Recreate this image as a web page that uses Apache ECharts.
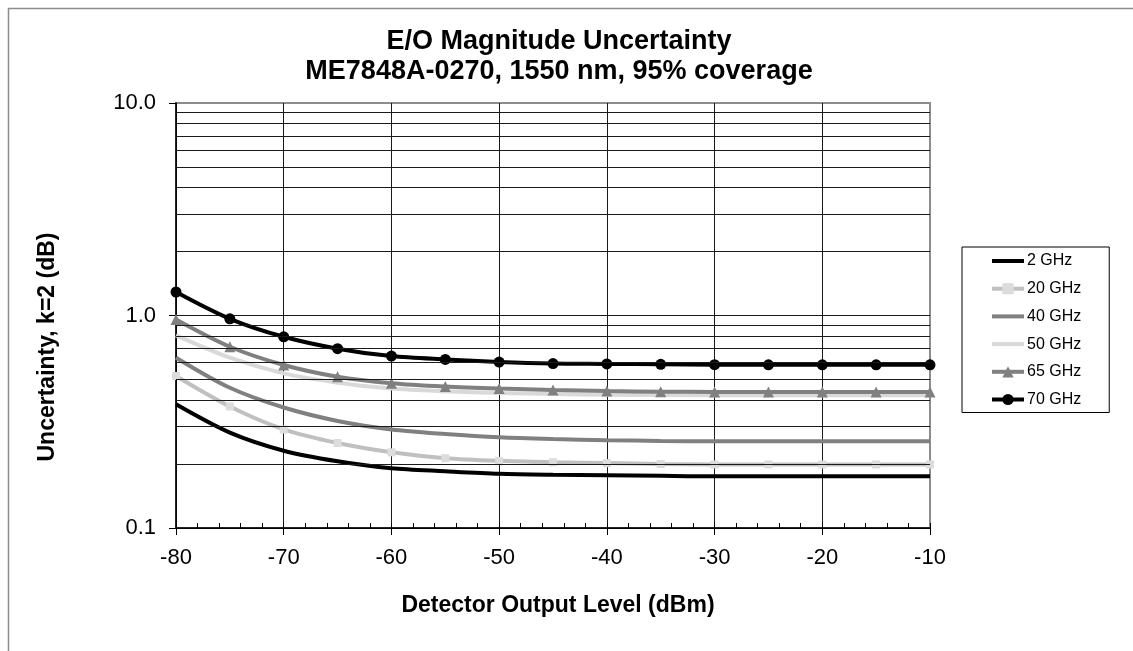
<!DOCTYPE html>
<html>
<head>
<meta charset="utf-8">
<script src="https://cdn.jsdelivr.net/npm/echarts@6/dist/echarts.min.js"></script>
<style>
html,body{margin:0;padding:0;background:#fff;}
#chart{width:1133px;height:651px;}
</style>
</head>
<body>
<div id="chart"></div>
<script>
// ---- data ----
const levels = [-80, -75, -70, -65, -60, -55, -50, -45, -40, -35, -30, -25, -20, -15, -10];
const g2  = [0.382, 0.281, 0.231, 0.206, 0.191, 0.185, 0.180, 0.178, 0.177, 0.176, 0.175, 0.175, 0.175, 0.175, 0.175];
const g20 = [0.519, 0.373, 0.291, 0.251, 0.227, 0.213, 0.207, 0.204, 0.202, 0.200, 0.199, 0.199, 0.199, 0.199, 0.199];
const g40 = [0.633, 0.457, 0.369, 0.319, 0.291, 0.277, 0.267, 0.262, 0.259, 0.257, 0.256, 0.256, 0.256, 0.256, 0.256];
const g50 = [0.806, 0.633, 0.534, 0.483, 0.453, 0.440, 0.432, 0.427, 0.424, 0.422, 0.421, 0.421, 0.421, 0.421, 0.421];
const g65 = [0.958, 0.713, 0.585, 0.515, 0.480, 0.463, 0.453, 0.446, 0.441, 0.438, 0.437, 0.437, 0.437, 0.437, 0.437];
const g70 = [1.29, 0.965, 0.794, 0.698, 0.644, 0.621, 0.604, 0.594, 0.592, 0.589, 0.587, 0.586, 0.586, 0.586, 0.586];
const seriesNames = ['2 GHz', '20 GHz', '40 GHz', '50 GHz', '65 GHz', '70 GHz'];
const minorGridValues = [0.2, 0.3, 0.4, 0.5, 0.6, 0.7, 0.8, 0.9, 2, 3, 4, 5, 6, 7, 8, 9];
const titleText = 'E/O Magnitude Uncertainty\nME7848A-0270, 1550 nm, 95% coverage';
const xTitle = 'Detector Output Level (dBm)';
const yTitle = 'Uncertainty, k=2 (dB)';

const FONT = 'Liberation Sans, Arial, sans-serif';
const pair = arr => levels.map((x, i) => [x, arr[i]]);

const chart = echarts.init(document.getElementById('chart'), null, {renderer: 'canvas'});

const gridRect = {left: 176, right: 203, top: 103, bottom: 123};
const GRID = '#1a1a1a';
const FRAME = '#8c8c8c';

function mkSeries(name, data, color, symbol, symColor, symSize, extra) {
  return Object.assign({
    name: name,
    type: 'line',
    xAxisIndex: 0,
    yAxisIndex: 0,
    data: pair(data),
    smooth: 0.3,
    showSymbol: symbol !== 'none',
    symbol: symbol,
    symbolSize: symSize,
    lineStyle: {color: color, width: 4},
    itemStyle: {color: symColor, borderWidth: 0},
    emphasis: {disabled: true},
    animation: false
  }, extra || {});
}

const noSymbol = {'2 GHz': true, '40 GHz': true, '50 GHz': true};

const option = {
  backgroundColor: '#fff',
  animation: false,
  title: {
    text: titleText,
    left: 554,
    top: 22,
    textAlign: 'center',
    textStyle: {fontFamily: FONT, fontSize: 27, fontWeight: 'bold', color: '#000', lineHeight: 30}
  },
  graphic: [
    {type: 'rect', left: 6, top: 6, shape: {x: 0, y: 0, width: 1200, height: 1000},
     style: {fill: 'none', stroke: FRAME, lineWidth: 1.5}, silent: true, z: 0},
    {type: 'text', x: 48, y: 347, rotation: Math.PI / 2,
     style: {text: yTitle, font: 'bold 23px ' + FONT, fill: '#000', textAlign: 'center', textVerticalAlign: 'middle'}},
    {type: 'text', x: 558, y: 606,
     style: {text: xTitle, font: 'bold 23px ' + FONT, fill: '#000', textAlign: 'center', textVerticalAlign: 'middle'}}
  ],
  legend: {
    orient: 'vertical',
    left: 962,
    top: 247,
    data: seriesNames.map(n => noSymbol[n]
      ? {name: n, itemStyle: {opacity: 0}, lineStyle: {width: 4}}
      : {name: n, lineStyle: {width: 4}}),
    padding: [6, 28, 5, 28],
    itemWidth: 32,
    itemHeight: 14,
    itemGap: 11.7,
    borderColor: '#000',
    borderWidth: 1,
    backgroundColor: '#fff',
    selectedMode: false,
    textStyle: {fontFamily: FONT, fontSize: 16, color: '#000', padding: [0, 0, 0, -2]}
  },
  grid: [
    Object.assign({show: true, borderColor: FRAME, borderWidth: 2, backgroundColor: 'transparent', containLabel: false}, gridRect),
    Object.assign({show: false, containLabel: false}, gridRect)
  ],
  xAxis: [
    {
      type: 'value', gridIndex: 0, min: -80, max: -10, interval: 10, position: 'bottom',
      axisLine: {show: true, onZero: false, lineStyle: {color: '#000', width: 1.5}},
      axisTick: {show: true, inside: false, length: 7, lineStyle: {color: '#000', width: 1}},
      axisLabel: {fontFamily: FONT, fontSize: 22, color: '#000', margin: 19},
      splitLine: {show: true, lineStyle: {color: [GRID, GRID, GRID, GRID, GRID, GRID, GRID, FRAME], width: 1}}
    },
    {
      type: 'value', gridIndex: 1, min: -80, max: -10, interval: 2, position: 'bottom',
      axisLine: {show: false, onZero: false},
      axisTick: {show: true, inside: true, length: 5, lineStyle: {color: '#000', width: 1}},
      axisLabel: {show: false},
      splitLine: {show: false}
    }
  ],
  yAxis: [
    {
      type: 'log', gridIndex: 0, logBase: 10, min: 0.1, max: 10,
      axisLine: {show: true, onZero: false, lineStyle: {color: '#000', width: 1.5}},
      axisTick: {show: true, inside: false, length: 7, lineStyle: {color: '#000', width: 1}},
      axisLabel: {fontFamily: FONT, fontSize: 22, color: '#000', margin: 20,
                  formatter: v => Number(v).toFixed(1)},
      splitLine: {show: true, lineStyle: {color: [GRID, GRID, FRAME], width: 1}}
    },
    {
      type: 'value', gridIndex: 1, min: 0, max: 1, show: false
    }
  ],
  series: [
    mkSeries('2 GHz', g2, '#000000', 'none', '#000000', 0, {
      markLine: {
        silent: true, symbol: ['none', 'none'], animation: false,
        label: {show: false},
        lineStyle: {color: GRID, width: 1, type: 'solid'},
        emphasis: {disabled: true},
        data: minorGridValues.map(v => ({yAxis: v}))
      }
    }),
    mkSeries('20 GHz', g20, '#c0c0c0', 'rect', '#dcdcdc', 8),
    mkSeries('40 GHz', g40, '#808080', 'none', '#808080', 0),
    mkSeries('50 GHz', g50, '#d9d9d9', 'none', '#d9d9d9', 0),
    mkSeries('65 GHz', g65, '#808080', 'triangle', '#808080', 11),
    mkSeries('70 GHz', g70, '#000000', 'circle', '#000000', 11)
  ]
};

chart.setOption(option);
</script>
</body>
</html>
